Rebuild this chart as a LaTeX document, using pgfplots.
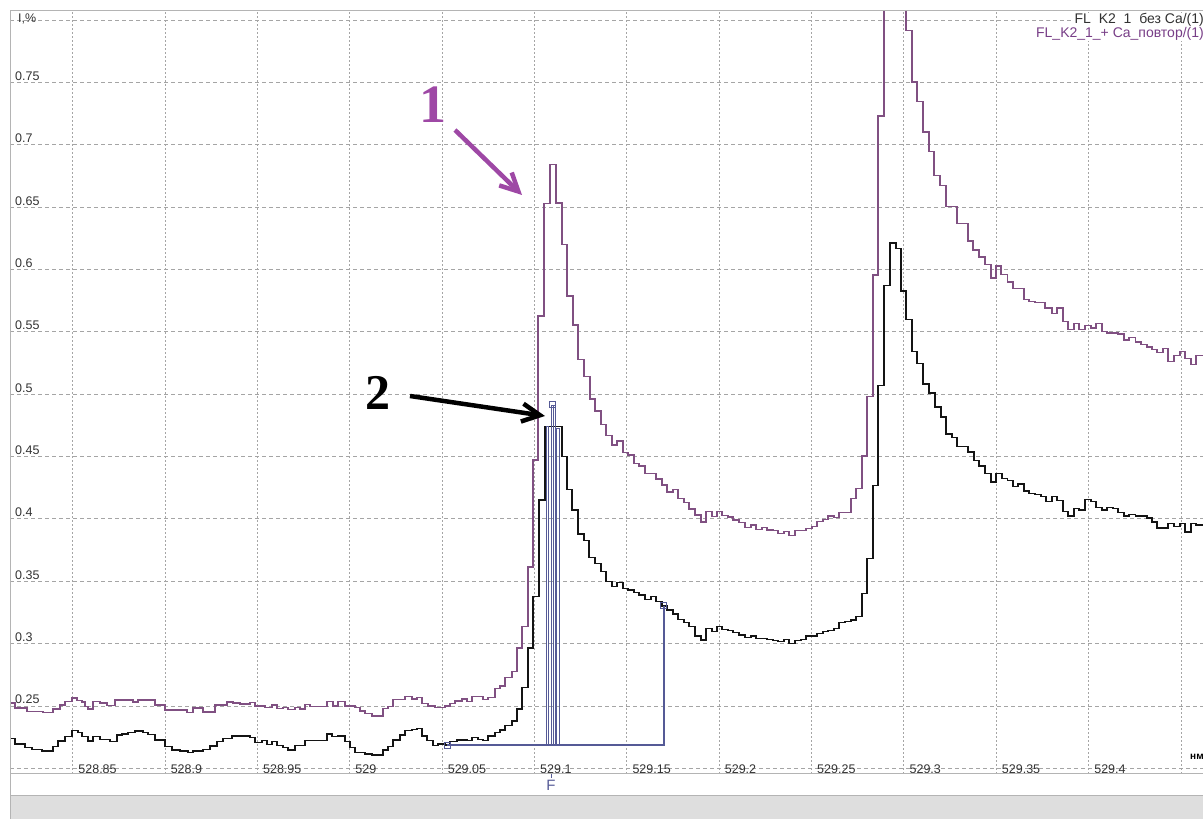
\documentclass[border=0pt]{standalone}
\usepackage{pgfplots}
\pgfplotsset{compat=1.18}
\usepackage{fontspec}
\setmainfont{Liberation Sans}
\newfontfamily\annofont{Liberation Serif}
\usetikzlibrary{arrows.meta}

\definecolor{trace}{RGB}{20,20,20}
\definecolor{traceCa}{RGB}{128,80,130}
\definecolor{legCa}{RGB}{120,62,135}
\definecolor{integ}{RGB}{85,90,150}
\definecolor{gridc}{RGB}{165,165,165}
\definecolor{framec}{RGB}{180,180,180}
\definecolor{ticktext}{RGB}{50,50,50}
\definecolor{annoA}{RGB}{158,72,165}
\definecolor{barc}{RGB}{222,222,222}

\begin{document}
\begin{tikzpicture}
% status bar under the plot
\fill[barc] (10bp,0) rectangle (1203bp,23bp);
\draw[framec, line width=1bp] (10bp,23bp) -- (1203bp,23bp);

\begin{axis}[
  at={(10bp,45bp)}, anchor=south west,
  scale only axis, width=1193bp, height=763bp,
  xmin=528.81605, xmax=529.46197,
  ymin=0.19547, ymax=0.80734,
  hide axis, clip mode=individual,
]
% grid
\pgfplotsinvokeforeach{528.85,528.9,528.95,529,529.05,529.1,529.15,529.2,529.25,529.3,529.35,529.4,529.45}{
  \draw[gridc, line width=0.9bp, dash pattern=on 2bp off 2bp] (axis cs:#1,0.19547) -- (axis cs:#1,0.80734);
}
\pgfplotsinvokeforeach{0.2,0.25,0.3,0.35,0.4,0.45,0.5,0.55,0.6,0.65,0.7,0.75,0.8}{
  \draw[gridc, line width=0.9bp, dash pattern=on 4bp off 3bp] (axis cs:528.81605,#1) -- (axis cs:529.46197,#1);
}
% tick labels
\pgfplotsinvokeforeach{0.25,0.3,0.35,0.4,0.45,0.5,0.55,0.6,0.65,0.7,0.75}{
  \node[anchor=base west, text=ticktext, font=\fontsize{12.5bp}{14bp}\selectfont, inner sep=0pt, xshift=5bp, yshift=2bp] at (axis cs:528.81605,#1) {#1};
}
\node[anchor=base west, text=ticktext, font=\fontsize{12.5bp}{14bp}\selectfont, inner sep=0pt, xshift=8bp, yshift=-2.5bp] at (axis cs:528.81605,0.8) {I,\%};
\pgfplotsinvokeforeach{528.85,528.9,528.95,529,529.05,529.1,529.15,529.2,529.25,529.3,529.35,529.4}{
  \node[anchor=base west, text=ticktext, font=\fontsize{12.5bp}{14bp}\selectfont, inner sep=0pt, xshift=5.5bp] at (axis cs:#1,0.19627) {#1};
}

% FL_K2_1_+ Ca_povtor
\addplot[const plot, traceCa, line width=1.3bp] coordinates {
(528.8161,0.2524) (528.8188,0.2484) (528.8253,0.2454) (528.8339,0.2446) (528.8393,0.2476) (528.8431,0.2508) (528.8458,0.2534) (528.8496,0.2564) (528.8523,0.2543) (528.8550,0.2532) (528.8567,0.2494) (528.8583,0.2476) (528.8610,0.2534) (528.8648,0.2524) (528.8686,0.2502) (528.8729,0.2548) (528.8826,0.2532) (528.8854,0.2548) (528.8946,0.2508) (528.9000,0.2468) (528.9119,0.2446) (528.9151,0.2484) (528.9205,0.2452) (528.9270,0.2508) (528.9335,0.2532) (528.9368,0.2524) (528.9406,0.2516)
(528.9460,0.2530) (528.9487,0.2500) (528.9541,0.2490) (528.9579,0.2508) (528.9606,0.2482) (528.9639,0.2490) (528.9666,0.2474) (528.9704,0.2490) (528.9731,0.2476) (528.9758,0.2514) (528.9785,0.2494) (528.9877,0.2534) (528.9909,0.2500) (528.9936,0.2534) (528.9974,0.2500) (529.0028,0.2490) (529.0056,0.2460) (529.0083,0.2441) (529.0120,0.2420) (529.0180,0.2482) (529.0207,0.2494) (529.0234,0.2554) (529.0299,0.2575) (529.0337,0.2556) (529.0364,0.2570) (529.0391,0.2522) (529.0424,0.2500) (529.0462,0.2486) (529.0516,0.2500) (529.0543,0.2522) (529.0570,0.2540) (529.0608,0.2556) (529.0635,0.2534) (529.0662,0.2575) (529.0721,0.2554) (529.0749,0.2570) (529.0786,0.2642) (529.0814,0.2660) (529.0841,0.2730)
(529.0878,0.2774) (529.0906,0.2965) (529.0933,0.3138) (529.0965,0.3615) (529.0992,0.4473) (529.1019,0.5627) (529.1052,0.6531) (529.1084,0.6842) (529.1117,0.6534) (529.1149,0.6201) (529.1176,0.5788) (529.1209,0.5555) (529.1236,0.5279) (529.1268,0.5142) (529.1301,0.4962) (529.1328,0.4866) (529.1360,0.4757) (529.1387,0.4669) (529.1420,0.4593) (529.1447,0.4625) (529.1479,0.4533) (529.1507,0.4513) (529.1539,0.4446) (529.1566,0.4425) (529.1599,0.4363) (529.1658,0.4320) (529.1691,0.4272) (529.1718,0.4216) (529.1750,0.4236) (529.1777,0.4166) (529.1810,0.4132) (529.1837,0.4080) (529.1869,0.4032) (529.1902,0.3976) (529.1929,0.4058) (529.1961,0.4018) (529.1988,0.4058) (529.2015,0.4029) (529.2048,0.4016) (529.2075,0.3992) (529.2108,0.3972) (529.2140,0.3931) (529.2172,0.3952) (529.2200,0.3917) (529.2232,0.3933) (529.2259,0.3911) (529.2292,0.3906) (529.2319,0.3885) (529.2351,0.3898) (529.2378,0.3866) (529.2411,0.3906) (529.2470,0.3925) (529.2503,0.3938) (529.2530,0.3978) (529.2562,0.3997) (529.2589,0.4024) (529.2622,0.4010) (529.2649,0.4050) (529.2714,0.4166) (529.2741,0.4246) (529.2773,0.4505) (529.2800,0.4980) (529.2833,0.5956) (529.2860,0.7231) (529.2893,0.9500)
(529.3012,0.7918) (529.3044,0.7504) (529.3071,0.7345) (529.3104,0.7103) (529.3136,0.6944) (529.3163,0.6753) (529.3196,0.6672) (529.3228,0.6506) (529.3288,0.6372) (529.3347,0.6229) (529.3374,0.6157) (529.3407,0.6101) (529.3439,0.6042) (529.3472,0.5933) (529.3499,0.6028) (529.3526,0.5962) (529.3559,0.5900) (529.3591,0.5847) (529.3651,0.5761) (529.3678,0.5741) (529.3710,0.5733) (529.3764,0.5692) (529.3802,0.5647) (529.3829,0.5692) (529.3862,0.5584) (529.3889,0.5521) (529.3921,0.5570) (529.3948,0.5521) (529.3981,0.5550) (529.4013,0.5532) (529.4040,0.5570) (529.4073,0.5504) (529.4100,0.5492) (529.4159,0.5484) (529.4192,0.5435) (529.4219,0.5455) (529.4252,0.5419) (529.4284,0.5398) (529.4316,0.5378) (529.4344,0.5360) (529.4371,0.5332) (529.4403,0.5369) (529.4430,0.5263) (529.4463,0.5312) (529.4495,0.5340) (529.4522,0.5284) (529.4555,0.5240) (529.4582,0.5312) (529.4620,0.5312)
};

% FL_K2_1 bez Ca
\addplot[const plot, trace, line width=1.3bp] coordinates {
(528.8161,0.2241) (528.8188,0.2195) (528.8242,0.2169) (528.8280,0.2153) (528.8334,0.2139) (528.8393,0.2174) (528.8420,0.2219) (528.8458,0.2254) (528.8496,0.2302) (528.8529,0.2289) (528.8550,0.2254) (528.8583,0.2219) (528.8610,0.2254) (528.8648,0.2233) (528.8702,0.2214) (528.8740,0.2267) (528.8767,0.2275) (528.8799,0.2289) (528.8837,0.2300) (528.8881,0.2289) (528.8908,0.2273) (528.8946,0.2227) (528.9000,0.2174) (528.9038,0.2147) (528.9081,0.2139) (528.9124,0.2126) (528.9151,0.2139) (528.9205,0.2153) (528.9243,0.2179) (528.9281,0.2214) (528.9314,0.2241) (528.9363,0.2259)
(528.9460,0.2249) (528.9487,0.2206) (528.9525,0.2222) (528.9552,0.2193) (528.9579,0.2214) (528.9606,0.2182) (528.9639,0.2169) (528.9666,0.2147) (528.9704,0.2182) (528.9758,0.2222) (528.9877,0.2275) (528.9904,0.2254) (528.9936,0.2259) (528.9974,0.2214) (529.0001,0.2169) (529.0028,0.2126) (529.0083,0.2115) (529.0120,0.2107) (529.0180,0.2147) (529.0207,0.2174) (529.0234,0.2227) (529.0272,0.2267) (529.0299,0.2302) (529.0337,0.2313) (529.0364,0.2321) (529.0391,0.2259) (529.0418,0.2222) (529.0451,0.2182) (529.0478,0.2195) (529.0516,0.2187) (529.0543,0.2214) (529.0581,0.2227) (529.0635,0.2222) (529.0662,0.2249) (529.0694,0.2233) (529.0721,0.2222) (529.0749,0.2259) (529.0786,0.2286) (529.0814,0.2308) (529.0841,0.2345)
(529.0878,0.2380) (529.0906,0.2476) (529.0933,0.2648) (529.0965,0.2965) (529.0992,0.3377) (529.1025,0.4152) (529.1057,0.4740) (529.1149,0.4499) (529.1176,0.4238) (529.1203,0.4072) (529.1236,0.3879) (529.1268,0.3826) (529.1295,0.3689) (529.1328,0.3644) (529.1360,0.3577) (529.1387,0.3497) (529.1420,0.3457) (529.1447,0.3489) (529.1479,0.3444) (529.1507,0.3430) (529.1539,0.3409) (529.1566,0.3390) (529.1599,0.3356) (529.1631,0.3377) (529.1658,0.3336) (529.1691,0.3302) (529.1718,0.3270) (529.1750,0.3238) (529.1777,0.3195) (529.1810,0.3168) (529.1837,0.3136) (529.1869,0.3061) (529.1902,0.3029) (529.1929,0.3123) (529.1961,0.3096) (529.1988,0.3136) (529.2015,0.3115) (529.2048,0.3104) (529.2075,0.3088) (529.2108,0.3069) (529.2140,0.3051) (529.2172,0.3061) (529.2200,0.3043) (529.2259,0.3035) (529.2292,0.3024) (529.2319,0.3016) (529.2351,0.3035) (529.2378,0.3003) (529.2411,0.3024) (529.2443,0.3035) (529.2470,0.3061) (529.2530,0.3083) (529.2562,0.3096) (529.2589,0.3104) (529.2622,0.3123) (529.2649,0.3168) (529.2681,0.3176) (529.2714,0.3190) (529.2741,0.3216) (529.2773,0.3404) (529.2800,0.3684) (529.2833,0.4268) (529.2860,0.5069) (529.2893,0.5870) (529.2925,0.6214) (529.2958,0.6171) (529.2985,0.5828) (529.3012,0.5599) (529.3044,0.5340) (529.3071,0.5246) (529.3104,0.5083) (529.3136,0.5011)
(529.3169,0.4897) (529.3201,0.4817) (529.3228,0.4682) (529.3261,0.4653) (529.3288,0.4582) (529.3347,0.4538) (529.3380,0.4467) (529.3407,0.4425) (529.3439,0.4367) (529.3472,0.4296) (529.3499,0.4367) (529.3531,0.4324) (529.3559,0.4309) (529.3591,0.4261) (529.3618,0.4281) (529.3651,0.4223) (529.3678,0.4203) (529.3710,0.4195) (529.3743,0.4181) (529.3770,0.4138) (529.3802,0.4181) (529.3829,0.4146) (529.3862,0.4061) (529.3889,0.4023) (529.3921,0.4081) (529.3948,0.4072) (529.3981,0.4158) (529.4013,0.4138) (529.4040,0.4089) (529.4073,0.4072) (529.4100,0.4089) (529.4132,0.4081) (529.4159,0.4052) (529.4192,0.4023) (529.4219,0.4037) (529.4252,0.4023) (529.4316,0.4008) (529.4344,0.3975) (529.4371,0.3928) (529.4430,0.3966) (529.4463,0.3937) (529.4495,0.3966) (529.4522,0.3895) (529.4555,0.3966) (529.4582,0.3952) (529.4620,0.3952)
};

% integration window: baseline and peak bars
\addplot[integ, line width=1.2bp] coordinates {(529.0527,0.2187) (529.1701,0.2187) (529.1701,0.3302)};
\addplot[integ, line width=0.8bp] coordinates {(529.1062,0.2187) (529.1062,0.4740) (529.1077,0.4740) (529.1077,0.2187)};
\addplot[integ, line width=0.8bp] coordinates {(529.1089,0.2187) (529.1089,0.4914) (529.1111,0.4914) (529.1111,0.2187)};
\addplot[integ, line width=0.8bp] coordinates {(529.1100,0.2187) (529.1100,0.4914)};
\addplot[integ, line width=0.8bp] coordinates {(529.1121,0.2187) (529.1121,0.4724) (529.1135,0.4724) (529.1135,0.2187)};
\addplot[only marks, mark=square, mark size=3bp, mark options={integ, fill=white, line width=1bp}] coordinates {(529.0527,0.2187) (529.1701,0.3302) (529.1100,0.4914)};
\end{axis}

% frame
\draw[framec, line width=1bp] (10bp,0) -- (10bp,808bp) -- (1203bp,808bp);
\draw[framec, line width=1bp] (10bp,45bp) -- (1203bp,45bp);

% series names
\node[anchor=base east, fill=white, inner sep=1bp, text=ticktext, font=\fontsize{14bp}{16bp}\selectfont] at (1205bp,795bp) {FL\ \ K2\ \ 1\ \ без Ca/(1)};
\node[anchor=base east, fill=white, inner sep=1bp, text=legCa, font=\fontsize{14bp}{16bp}\selectfont] at (1205bp,781.5bp) {FL\_K2\_1\_+ Ca\_повтор/(1)};

% axis unit and peak marker
\node[anchor=base west, inner sep=0pt, font=\bfseries\fontsize{10bp}{12bp}\selectfont] at (1190bp,59bp) {нм};
\draw[integ, line width=1bp] (551bp,45bp) -- (551bp,41bp);
\node[text=integ, inner sep=0pt, font=\fontsize{15bp}{17bp}\selectfont] at (551bp,34bp) {F};

% annotations
\draw[annoA, line width=4.5bp, -{Straight Barb[length=18bp,width=18bp]}] (455bp,689bp) -- (522bp,624bp);
\node[text=annoA, font=\annofont\bfseries\fontsize{54bp}{56bp}\selectfont] at (433bp,714bp) {1};
\draw[black, line width=4.5bp, -{Straight Barb[length=18bp,width=18bp]}] (410bp,423bp) -- (545bp,403bp);
\node[text=black, font=\annofont\bfseries\fontsize{50bp}{52bp}\selectfont] at (378bp,426bp) {2};

\pgfresetboundingbox
\useasboundingbox (0,0) rectangle (1203bp,819bp);
\end{tikzpicture}
\end{document}
